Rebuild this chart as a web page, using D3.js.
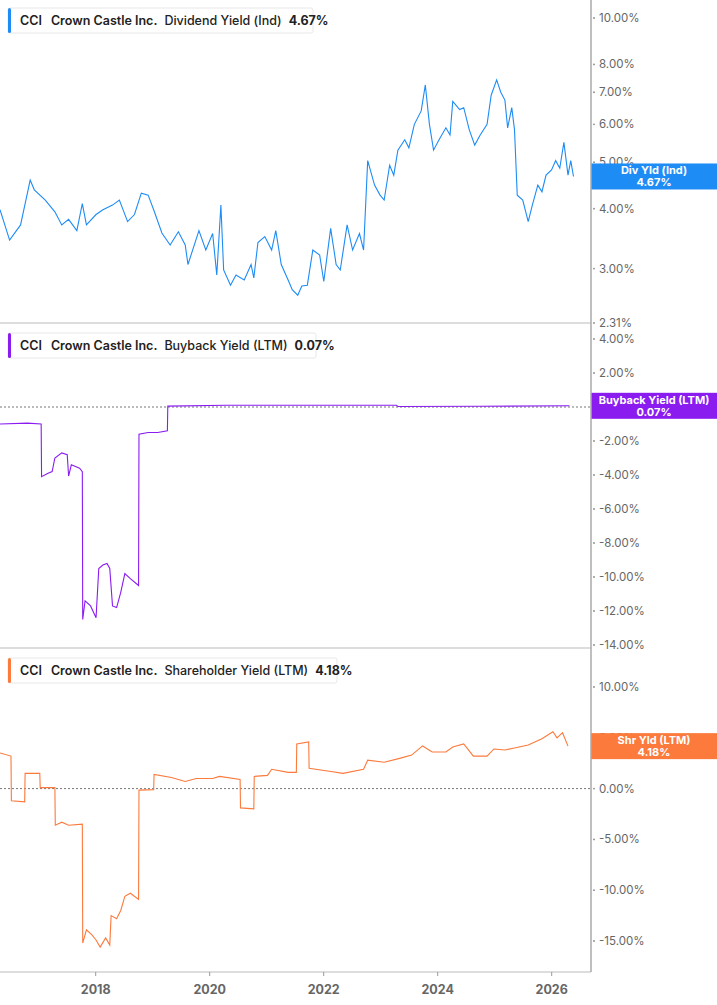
<!DOCTYPE html>
<html lang="en">
<head>
<meta charset="UTF-8">
<script src="https://cdn.jsdelivr.net/npm/d3@7"></script>
<style>
  * { margin: 0; padding: 0; box-sizing: border-box; }
  body { background: #fff; font-family: Inter, "Noto Sans", sans-serif; }
</style>
</head>
<body>
<svg id="chart" width="717" height="1005"></svg>
<script>
// readings in zoom units; year = 2016.33 + u * 1.372 / 57
var divYield = [[0,3.98],[7,3.44],[15,3.7],[22,4.59],[25,4.38],[33,4.17],[40,3.94],[45,3.7],[50,3.8],[56,3.6],[60,4.1],[63,3.7],[70,3.89],[75,3.98],[82,4.07],[87,4.17],[93,3.76],[98,3.89],[103,4.31],[108,4.27],[112,3.98],[118,3.56],[124,3.36],[130,3.58],[135,3.36],[137,3.06],[145,3.6],[150,3.28],[155,3.55],[158,2.91],[161,4.07],[163,2.98],[168,2.77],[172,2.91],[178,2.84],[183,3.06],[185,2.87],[188,3.4],[193,3.5],[198,3.28],[201,3.6],[205,3.06],[210,2.84],[213,2.71],[217,2.64],[220,2.76],[224,2.77],[228,3.28],[233,3.2],[236,2.82],[241,3.64],[245,3.06],[248,2.98],[253,3.7],[257,3.28],[262,3.55],[265,3.28],[268,5.04],[273,4.48],[277,4.27],[280,4.17],[284,4.93],[287,4.7],[290,5.3],[295,5.57],[298,5.36],[302,6.0],[307,6.4],[310,7.25],[313,6.0],[316,5.3],[320,5.57],[325,5.9],[328,5.7],[330,6.7],[335,6.44],[338,6.5],[342,5.85],[346,5.43],[350,5.7],[355,6.0],[358,6.9],[362,7.43],[365,7.0],[368,6.74],[370,5.9],[373,6.5],[375,5.85],[377,4.27],[381,4.17],[385,3.76],[388,4.07],[392,4.48],[395,4.34],[398,4.7],[402,4.82],[405,5.04],[408,4.86],[411,5.5],[414,4.7],[416,5.04],[418,4.67]];
var buyback = [[0,-1.0],[20,-0.95],[30,-1.0],[30.3,-4.1],[35,-3.9],[38,-3.8],[40,-3.0],[45,-2.7],[49,-2.8],[50,-4.06],[52,-3.4],[58,-3.6],[60,-3.8],[60.3,-12.5],[62,-11.4],[66,-11.7],[70,-12.4],[72,-9.5],[75,-9.3],[78,-9.2],[80,-9.5],[82,-11.7],[85,-11.8],[88,-10.9],[91,-9.8],[95,-10.1],[101,-10.5],[101.3,-1.6],[108,-1.5],[115,-1.5],[122,-1.4],[122.3,0.05],[165,0.1],[200,0.1],[289,0.1],[290,0.03],[350,0.04],[415,0.07]];
var shrYield = [[0,3.5],[8,3.2],[8.3,-1.2],[18,-1.3],[18.3,1.5],[29,1.5],[29.3,0.1],[40,0.1],[40.3,-3.6],[45,-3.3],[50,-3.6],[60,-3.5],[60.3,-15.2],[63,-13.9],[67,-14.4],[70,-14.9],[73,-15.6],[77,-14.7],[80,-15.4],[81,-12.5],[85,-12.8],[88,-12.0],[91,-10.6],[95,-10.3],[101,-10.9],[101.3,-0.15],[112,-0.1],[112.3,1.4],[125,1.1],[135,0.7],[143,1.0],[155,1.0],[160,1.2],[175,0.9],[175.3,-1.9],[185,-2.0],[185.3,1.2],[195,1.3],[198,1.9],[210,1.6],[216,1.6],[216.3,4.4],[225,4.6],[225.3,2.0],[240,1.7],[250,1.5],[265,1.9],[268,2.8],[280,2.6],[292,3.0],[300,3.3],[308,4.2],[315,3.6],[325,3.6],[330,4.1],[338,4.4],[345,3.2],[355,3.2],[360,3.9],[368,3.8],[375,4.0],[385,4.3],[395,4.9],[403,5.6],[406,5.0],[410,5.5],[414,4.18]];

var divTicks = [10, 8, 7, 6, 5, 4, 3, 2.31];
var buyTicks = [4, 2, 0, -2, -4, -6, -8, -10, -12, -14];
var shrTicks = [10, 5, 0, -5, -10, -15];
var yearTicks = [2018, 2020, 2022, 2024, 2026];

function toYear(u) { return 2016.33 + u * 1.372 / 57; }

var svg = d3.select('#chart');
var W = 591;
var x = d3.scaleLinear().domain([2016.33, 2016.33 + W / 57]).range([0, W]);

var panels = [
  { data: divYield, top: 0, bottom: 323, color: '#1e8cf5', log: true, domain: [10, 2.31], range: [18, 323],
    ticks: divTicks, legend: ['Dividend Yield (Ind)', '4.67%'], legendW: 313, tag: ['Div Yld (Ind)', '4.67%'], last: 4.67 },
  { data: buyback, top: 325, bottom: 648, color: '#8a1cf0', log: false, domain: [4, -14], range: [339, 645],
    ticks: buyTicks, legend: ['Buyback Yield (LTM)', '0.07%'], legendW: 316, tag: ['Buyback Yield (LTM)', '0.07%'], last: 0.07, zero: true },
  { data: shrYield, top: 650, bottom: 972, color: '#fb7a3c', log: false, domain: [10, -15], range: [687, 941],
    ticks: shrTicks, legend: ['Shareholder Yield (LTM)', '4.18%'], legendW: 337, tag: ['Shr Yld (LTM)', '4.18%'], last: 4.18, zero: true }
];

panels.forEach(function (p) {
  var y = (p.log ? d3.scaleLog() : d3.scaleLinear()).domain(p.domain).range(p.range);
  var g = svg.append('g');

  if (p.zero) {
    g.append('line').attr('x1', 0).attr('x2', W).attr('y1', y(0)).attr('y2', y(0))
      .attr('stroke', '#777').attr('stroke-dasharray', '2,2');
  }

  var line = d3.line().x(function (d) { return x(toYear(d[0])); }).y(function (d) { return y(d[1]); });
  g.append('path').datum(p.data).attr('d', line).attr('fill', 'none')
    .attr('stroke', p.color).attr('stroke-width', 1.1);

  p.ticks.forEach(function (t) {
    g.append('circle').attr('cx', 594).attr('cy', y(t)).attr('r', 0.9).attr('fill', '#888');
    g.append('text').attr('x', 599).attr('y', y(t) + 4).attr('font-size', 11.5).attr('fill', '#666')
      .text((t < 0 ? '-' : '') + Math.abs(t).toFixed(2) + '%');
  });

  g.append('line').attr('x1', 0).attr('x2', W).attr('y1', p.bottom).attr('y2', p.bottom)
    .attr('stroke', '#bbb');

  var lg = g.append('g').attr('transform', 'translate(8,' + (p.top + 8) + ')');
  lg.append('rect').attr('width', p.legendW - 8).attr('height', 25).attr('rx', 2)
    .attr('fill', '#fff').attr('stroke', '#e8e8e8');
  lg.append('rect').attr('width', 3).attr('height', 25).attr('rx', 1.5).attr('fill', p.color);
  var tx = lg.append('text').attr('x', 12).attr('y', 17).attr('font-size', 12.5).attr('fill', '#222')
    .attr('font-weight', 600);
  tx.append('tspan').text('CCI');
  tx.append('tspan').attr('dx', 9).text('Crown Castle Inc.');
  tx.append('tspan').attr('dx', 7).attr('font-weight', 500).text(p.legend[0]);
  tx.append('tspan').attr('dx', 7).attr('font-weight', 700).text(p.legend[1]);

  var ty = y(p.last);
  g.append('rect').attr('x', 591).attr('y', ty - 13).attr('width', 126).attr('height', 26).attr('fill', p.color);
  g.append('text').attr('x', 654).attr('y', ty - 2).attr('text-anchor', 'middle').attr('fill', '#fff')
    .attr('font-size', 11).attr('font-weight', 700).text(p.tag[0]);
  g.append('text').attr('x', 654).attr('y', ty + 10).attr('text-anchor', 'middle').attr('fill', '#fff')
    .attr('font-size', 11).attr('font-weight', 700).text(p.tag[1]);
});

svg.append('line').attr('x1', W).attr('x2', W).attr('y1', 0).attr('y2', 972).attr('stroke', '#aaa').attr('stroke-width', 1.5);

var xa = svg.append('g').attr('transform', 'translate(0,972)')
  .call(d3.axisBottom(x).tickValues(yearTicks).tickFormat(d3.format('d')).tickSize(4));
xa.select('.domain').remove();
xa.selectAll('line').attr('stroke', '#999');
xa.selectAll('text').attr('font-size', 12.5).attr('font-weight', 700).attr('fill', '#666')
  .attr('font-family', 'Inter, sans-serif').attr('dy', '1.2em');
</script>
</body>
</html>
